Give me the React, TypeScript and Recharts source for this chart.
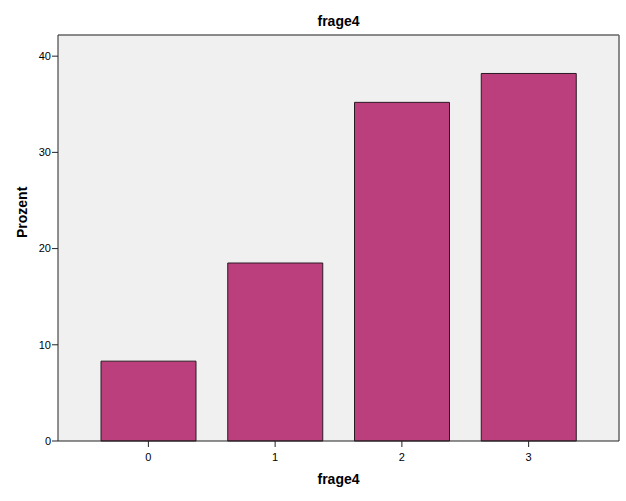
import { Bar, BarChart, CartesianGrid, XAxis, YAxis } from 'recharts'

const categories = ['0', '1', '2', '3']
const percents = [8.3, 18.5, 35.2, 38.2]
const yTicks = [0, 10, 20, 30, 40]

const data = categories.map((c, i) => ({ cat: c, value: percents[i] }))

const font = '"Liberation Sans", Arial, sans-serif'

// frame lines on the top and right edge of the plot area
const topEdge = (props: any) => [props.offset.top]
const rightEdge = (props: any) => [props.offset.left + props.offset.width]

export default function App() {
  return (
    <div style={{ position: 'absolute', left: 0, top: 0, width: 626, height: 501, background: '#fff', fontFamily: font }}>
      <div style={{ position: 'absolute', top: 13, left: 58, width: 561, textAlign: 'center', fontWeight: 'bold', fontSize: 14 }}>
        frage4
      </div>
      <BarChart width={626} height={501} data={data} margin={{ top: 35, right: 7, bottom: 0, left: 0 }}>
        <CartesianGrid
          fill="#F0F0F0"
          stroke="#666"
          strokeWidth={1.5}
          horizontalCoordinatesGenerator={topEdge}
          verticalCoordinatesGenerator={rightEdge}
        />
        <XAxis
          dataKey="cat"
          padding={{ left: 27, right: 27 }}
          height={60}
          stroke="#222"
          tickSize={6}
          tickMargin={6}
          tick={{ fill: '#000', fontSize: 11, fontFamily: font }}
          tickLine={{ stroke: '#222' }}
          label={{ value: 'frage4', position: 'insideBottom', offset: 17, fill: '#000', fontWeight: 'bold', fontSize: 14, fontFamily: font }}
        />
        <YAxis
          domain={[0, 42.2]}
          ticks={yTicks}
          width={58}
          stroke="#222"
          tickSize={6}
          tickMargin={1}
          tick={{ fill: '#000', fontSize: 11, fontFamily: font }}
          label={{ value: 'Prozent', angle: -90, position: 'insideLeft', offset: 22, fill: '#000', fontWeight: 'bold', fontSize: 14, fontFamily: font }}
        />
        <Bar dataKey="value" fill="#BB3F7D" stroke="#2A1A22" strokeWidth={1} barSize={95} isAnimationActive={false} />
      </BarChart>
    </div>
  )
}
